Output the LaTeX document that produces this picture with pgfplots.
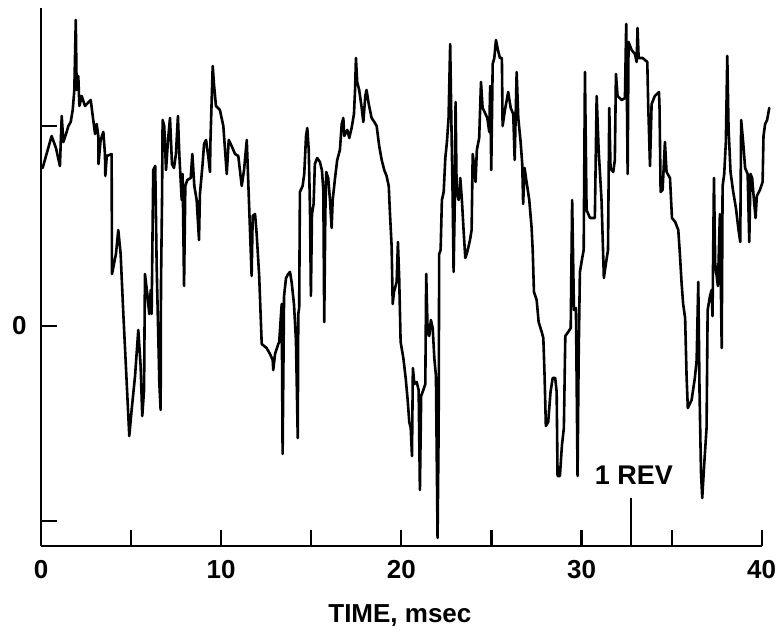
\documentclass[border=0pt]{standalone}
\usepackage{fontspec}
\setmainfont{Liberation Sans}
\usepackage{pgfplots}
\usepackage{pgfplotstable}
\pgfplotsset{compat=1.18}
\pgfplotstableread{
x y
0.09 0.79
0.59 0.95
0.83 0.89
1.05 0.80
1.15 1.05
1.24 0.92
1.39 0.96
1.52 1.00
1.65 1.02
1.76 1.08
1.85 1.18
1.93 1.53
1.98 1.18
2.07 1.25
2.13 1.10
2.26 1.15
2.44 1.10
2.76 1.13
2.90 1.03
3.00 0.96
3.09 1.01
3.18 0.95
3.19 0.81
3.31 0.93
3.46 0.97
3.55 0.86
3.57 0.75
3.65 0.85
3.92 0.86
3.94 0.26
4.05 0.31
4.16 0.36
4.29 0.48
4.42 0.36
4.57 0.06
4.76 -0.29
4.90 -0.55
5.03 -0.42
5.22 -0.25
5.40 -0.02
5.53 -0.20
5.62 -0.45
5.72 -0.32
5.77 0.26
5.90 0.16
6.01 0.06
6.09 0.18
6.14 0.06
6.23 0.78
6.34 0.80
6.42 0.30
6.57 -0.29
6.64 -0.42
6.66 0.21
6.72 0.65
6.75 1.03
6.84 1.00
6.94 0.78
7.05 0.93
7.16 1.04
7.27 0.81
7.38 0.79
7.49 0.86
7.60 1.05
7.68 0.85
7.81 0.63
7.86 0.76
7.94 0.20
8.01 0.70
8.12 0.73
8.31 0.74
8.40 0.86
8.51 0.70
8.64 0.63
8.77 0.43
8.82 0.66
8.97 0.81
9.05 0.91
9.16 0.93
9.28 0.85
9.38 0.77
9.40 0.91
9.53 1.30
9.60 1.21
9.71 1.10
9.93 1.08
10.12 1.00
10.31 0.76
10.42 0.93
10.58 0.90
10.77 0.86
10.95 0.85
11.14 0.70
11.27 0.78
11.42 0.93
11.50 0.73
11.69 0.25
11.75 0.55
11.88 0.56
11.97 0.46
12.11 0.25
12.25 -0.09
12.52 -0.11
12.71 -0.14
12.86 -0.17
12.89 -0.22
12.99 -0.14
13.17 -0.09
13.22 -0.08
13.36 0.11
13.41 -0.64
13.49 0.15
13.60 0.24
13.72 0.26
13.82 0.27
13.91 0.22
14.04 0.11
14.15 -0.07
14.25 -0.56
14.28 0.06
14.33 0.09
14.37 0.67
14.52 0.70
14.61 0.76
14.71 0.95
14.78 0.99
14.86 0.88
14.93 0.58
14.98 0.15
15.04 0.56
15.13 0.61
15.20 0.81
15.33 0.84
15.48 0.82
15.59 0.78
15.67 0.68
15.72 0.02
15.78 0.56
15.83 0.77
15.94 0.74
16.04 0.63
16.13 0.49
16.19 0.63
16.32 0.74
16.44 0.83
16.59 0.88
16.69 1.01
16.78 1.04
16.83 0.95
17.00 0.98
17.11 0.94
17.24 0.99
17.37 1.06
17.43 1.18
17.48 1.34
17.55 1.22
17.66 1.18
17.80 1.09
17.89 1.02
18.00 1.15
18.07 1.18
18.19 1.11
18.35 1.04
18.50 1.02
18.63 1.00
18.77 0.90
18.91 0.83
19.05 0.78
19.18 0.75
19.30 0.70
19.37 0.56
19.46 0.40
19.52 0.11
19.59 0.17
19.74 0.22
19.81 0.42
19.88 0.24
19.96 -0.08
20.11 -0.16
20.24 -0.26
20.35 -0.37
20.44 -0.48
20.52 -0.51
20.59 -0.65
20.64 -0.21
20.72 -0.29
20.85 -0.28
20.96 -0.32
21.03 -0.82
21.10 -0.35
21.22 -0.32
21.33 -0.29
21.38 0.26
21.46 -0.03
21.55 -0.05
21.64 0.03
21.74 -0.01
21.83 -0.16
21.92 -0.25
22.01 -1.06
22.07 -0.51
22.10 0.36
22.18 0.38
22.25 0.63
22.35 0.67
22.44 0.84
22.53 0.92
22.62 1.04
22.71 1.41
22.77 1.06
22.85 0.63
22.90 0.27
22.96 0.59
23.01 1.12
23.07 0.67
23.18 0.63
23.27 0.74
23.36 0.63
23.46 0.47
23.55 0.34
23.66 0.37
23.81 0.43
23.90 0.48
23.96 0.86
24.03 0.81
24.12 0.72
24.19 0.88
24.32 0.94
24.42 1.22
24.51 1.09
24.62 1.07
24.77 1.04
24.88 0.97
24.93 1.20
24.99 0.78
25.07 1.31
25.16 1.34
25.25 1.43
25.36 1.38
25.47 1.34
25.58 1.34
25.62 1.00
25.75 1.08
25.93 1.17
26.07 1.09
26.21 1.06
26.29 0.83
26.40 1.27
26.49 1.04
26.62 0.92
26.71 0.81
26.76 0.61
26.84 0.79
26.95 0.72
27.10 0.63
27.23 0.49
27.29 0.38
27.36 0.17
27.51 0.13
27.62 0.02
27.79 -0.03
27.88 -0.06
27.95 -0.25
28.02 -0.50
28.15 -0.48
28.28 -0.33
28.40 -0.26
28.54 -0.26
28.62 -0.33
28.67 -0.75
28.80 -0.75
28.91 -0.60
29.02 -0.51
29.10 -0.05
29.26 -0.03
29.40 -0.01
29.48 0.63
29.58 0.08
29.69 0.09
29.78 -0.75
29.84 -0.16
29.91 0.27
30.02 0.33
30.12 0.38
30.19 1.27
30.28 0.58
30.47 0.54
30.74 0.54
30.84 1.15
30.95 0.88
31.11 0.63
31.24 0.24
31.35 0.31
31.47 0.38
31.54 1.09
31.61 0.79
31.76 0.77
31.85 0.83
31.91 1.26
32.00 1.15
32.23 1.13
32.41 1.14
32.48 1.51
32.56 0.76
32.61 1.42
32.78 1.38
32.96 1.36
33.06 1.32
33.11 1.49
33.17 1.34
33.39 1.34
33.65 1.32
33.70 1.11
33.80 0.80
33.89 1.11
34.07 1.15
34.30 1.17
34.33 1.09
34.39 0.67
34.50 0.68
34.63 0.92
34.72 0.77
34.91 0.74
35.02 0.54
35.20 0.52
35.37 0.48
35.46 0.36
35.55 0.22
35.64 0.11
35.75 0.04
35.83 -0.25
35.90 -0.41
36.11 -0.37
36.29 -0.26
36.39 -0.17
36.48 0.22
36.55 -0.33
36.63 -0.73
36.70 -0.86
36.81 -0.69
36.94 -0.51
37.00 0.08
37.13 0.15
37.22 0.18
37.27 0.05
37.35 0.74
37.42 0.31
37.57 0.20
37.68 0.56
37.78 -0.11
37.83 0.70
37.92 0.76
38.01 0.92
38.09 1.35
38.16 0.99
38.27 0.77
38.42 0.67
38.57 0.59
38.70 0.49
38.81 0.42
38.86 1.03
38.97 0.92
39.08 0.79
39.22 0.76
39.31 0.42
39.38 0.76
39.47 0.74
39.57 0.63
39.66 0.54
39.73 0.65
39.90 0.68
40.05 0.72
40.10 0.95
40.19 1.01
40.30 1.03
40.42 1.09
}\signal
\begin{document}
\begin{tikzpicture}
\useasboundingbox (-20.5pt,-42pt) rectangle (370pt,273pt);
\begin{axis}[
  at={(0,0)}, anchor=south west,
  scale only axis, width=360.35pt, height=269pt,
  xmin=0, xmax=40, ymin=-1.10, ymax=1.59,
  axis lines*=left,
  axis line style={line width=1.4pt, black},
  clip=false,
  tick align=inside,
  major tick length=8pt,
  tick style={line width=1.1pt, black},
  xtick={0,5,...,40},
  xticklabels={0,,10,,20,,30,,40},
  ytick={-0.975,0,1},
  yticklabels={,0,},
  extra x ticks={32.74},
  extra x tick labels={},
  extra x tick style={major tick length=24pt, tick style={line width=1.1pt, black}},
  tick label style={font=\fontsize{13}{15}\selectfont\bfseries},
  /pgf/number format/assume math mode=true,
  xticklabel style={yshift=-3.5pt},
  yticklabel style={xshift=-3.7pt},
  xlabel={TIME, msec},
  xlabel style={font=\fontsize{13}{15}\selectfont\bfseries, at={(rel axis cs:0.498,0)}, anchor=center, yshift=-35pt},
]
\addplot[black, line width=1.3pt, line join=round, line cap=round] table[x=x, y=y] {\signal};
\node[font=\fontsize{13.5}{15}\selectfont\bfseries] at (axis cs:32.91,-0.745) {1 REV};
\end{axis}
\end{tikzpicture}
\end{document}
